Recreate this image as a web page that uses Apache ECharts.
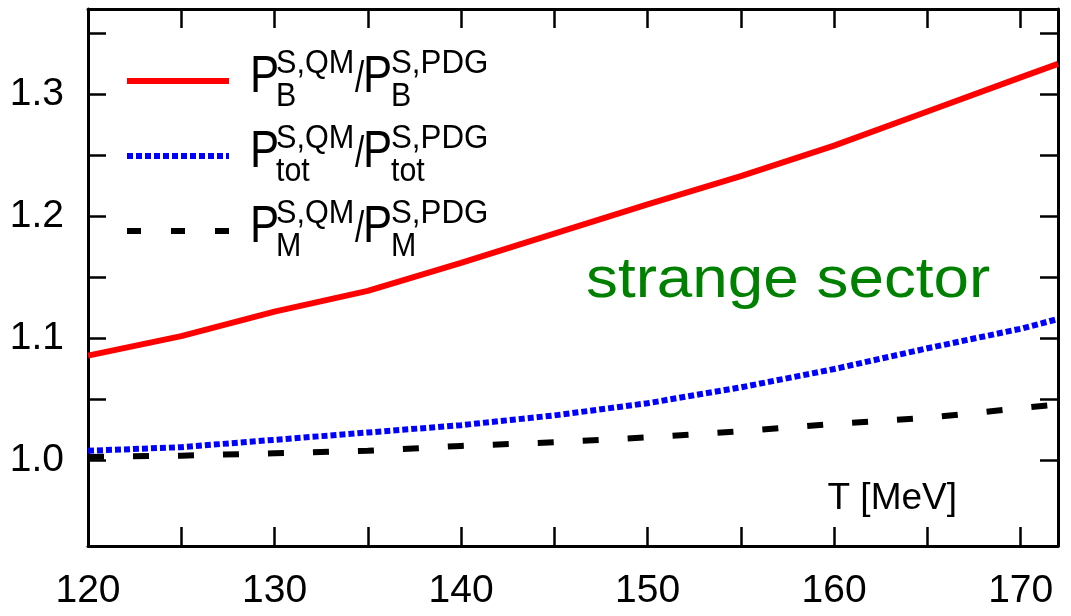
<!DOCTYPE html>
<html>
<head>
<meta charset="utf-8">
<script src="https://cdn.jsdelivr.net/npm/echarts@6/dist/echarts.min.js"></script>
<style>
html,body{margin:0;padding:0;background:#fff;}
#chart{width:1071px;height:616px;}
</style>
</head>
<body>
<div id="chart"></div>
<script>
// ---- data ----
const T = [120, 125, 130, 135, 140, 145, 150, 155, 160, 165, 170, 172];
const ratioBaryon = [1.086, 1.102, 1.122, 1.139, 1.162, 1.186, 1.210, 1.233, 1.258, 1.286, 1.314, 1.325];
const ratioTotal  = [1.008, 1.011, 1.017, 1.023, 1.029, 1.037, 1.047, 1.060, 1.075, 1.092, 1.108, 1.116];
const ratioMeson  = [1.003, 1.004, 1.006, 1.008, 1.012, 1.015, 1.019, 1.024, 1.030, 1.035, 1.043, 1.046];
const xTicks = [120, 125, 130, 135, 140, 145, 150, 155, 160, 165, 170];
const xLabels = [120, 130, 140, 150, 160, 170];
const yTicks = [1.0, 1.05, 1.1, 1.15, 1.2, 1.25, 1.3, 1.35];
const yLabels = [1.0, 1.1, 1.2, 1.3];

const pairs = (vals) => T.map((t, i) => [t, vals[i]]);
const FONT = '"Liberation Sans", Arial, Helvetica, sans-serif';

const chart = echarts.init(document.getElementById('chart'), null, {renderer: 'canvas'});

const axisLine = {show: true, lineStyle: {color: '#000', width: 3}};
const tickStyle = {lineStyle: {color: '#000', width: 2.5}};

// legend graphics
const rows = [
  {sub: 'B', color: '#ff0000', dash: 'solid'},
  {sub: 'tot', color: '#0000ff', dash: [6, 3]},
  {sub: 'M', color: '#000000', dash: [14, 30]}
];
const graphics = [];
const txt = (x, y, text, size, sx, color) => ({
  type: 'text', x: x, y: y, scaleX: sx || 1,
  style: {text: text, font: size + 'px ' + FONT, fill: color || '#000', align: 'left', verticalAlign: 'middle'}
});
rows.forEach((r, i) => {
  const dy = i * 75;
  graphics.push({
    type: 'line', shape: {x1: 127, y1: 81 + dy, x2: 229, y2: 81 + dy},
    style: {stroke: r.color, lineWidth: 6, lineDash: r.dash === 'solid' ? null : r.dash, lineCap: 'butt'}
  });
  graphics.push(txt(250, 78 + dy, 'P', 52, 0.84));
  graphics.push(txt(276, 64 + dy, 'S,QM', 34, 0.9));
  graphics.push(txt(276, 97 + dy, r.sub, 33, 0.92));
  graphics.push(txt(355, 80 + dy, '/', 44, 0.75));
  graphics.push(txt(363, 78 + dy, 'P', 52, 0.84));
  graphics.push(txt(391, 64 + dy, 'S,PDG', 34, 0.92));
  graphics.push(txt(391, 97 + dy, r.sub, 33, 0.92));
});
graphics.push(txt(586, 281, 'strange sector', 58, 1.1, '#008000'));
graphics.push({
  type: 'text', x: 957, y: 499,
  style: {text: 'T [MeV]', font: '37px ' + FONT, fill: '#000', align: 'right', verticalAlign: 'middle'}
});

const option = {
  backgroundColor: '#fff',
  animation: false,
  grid: {left: 88, right: 13, top: 9, bottom: 70, containLabel: false},
  xAxis: [
    {
      type: 'value', min: 120, max: 172, position: 'bottom',
      axisLine: axisLine,
      axisTick: Object.assign({show: true, inside: true, length: 19, customValues: xTicks}, tickStyle),
      axisLabel: {show: true, customValues: xLabels, color: '#000', fontSize: 39, fontFamily: FONT, margin: 26},
      splitLine: {show: false}
    },
    {
      type: 'value', min: 120, max: 172, position: 'top',
      axisLine: axisLine,
      axisTick: Object.assign({show: true, inside: true, length: 19, customValues: xTicks}, tickStyle),
      axisLabel: {show: false},
      splitLine: {show: false}
    }
  ],
  yAxis: [
    {
      type: 'value', min: 0.93, max: 1.37, position: 'left',
      axisLine: axisLine,
      axisTick: Object.assign({show: true, inside: true, length: 18, customValues: yTicks}, tickStyle),
      axisLabel: {show: true, customValues: yLabels, color: '#000', fontSize: 39, fontFamily: FONT, margin: 24,
        formatter: (v) => Number(v).toFixed(1)},
      splitLine: {show: false}
    },
    {
      type: 'value', min: 0.93, max: 1.37, position: 'right',
      axisLine: axisLine,
      axisTick: Object.assign({show: true, inside: true, length: 18, customValues: yTicks}, tickStyle),
      axisLabel: {show: false},
      splitLine: {show: false}
    }
  ],
  series: [
    {
      name: 'B', type: 'line', data: pairs(ratioBaryon), showSymbol: false, symbol: 'none',
      lineStyle: {color: '#ff0000', width: 6, type: 'solid'}, z: 3
    },
    {
      name: 'tot', type: 'line', data: pairs(ratioTotal), showSymbol: false, symbol: 'none',
      lineStyle: {color: '#0000ff', width: 6, type: [6, 3], cap: 'butt'}, z: 4
    },
    {
      name: 'M', type: 'line', data: pairs(ratioMeson), showSymbol: false, symbol: 'none',
      lineStyle: {color: '#000000', width: 6, type: [16, 29], cap: 'butt'}, z: 5
    }
  ],
  graphic: graphics
};
chart.setOption(option);
</script>
</body>
</html>
